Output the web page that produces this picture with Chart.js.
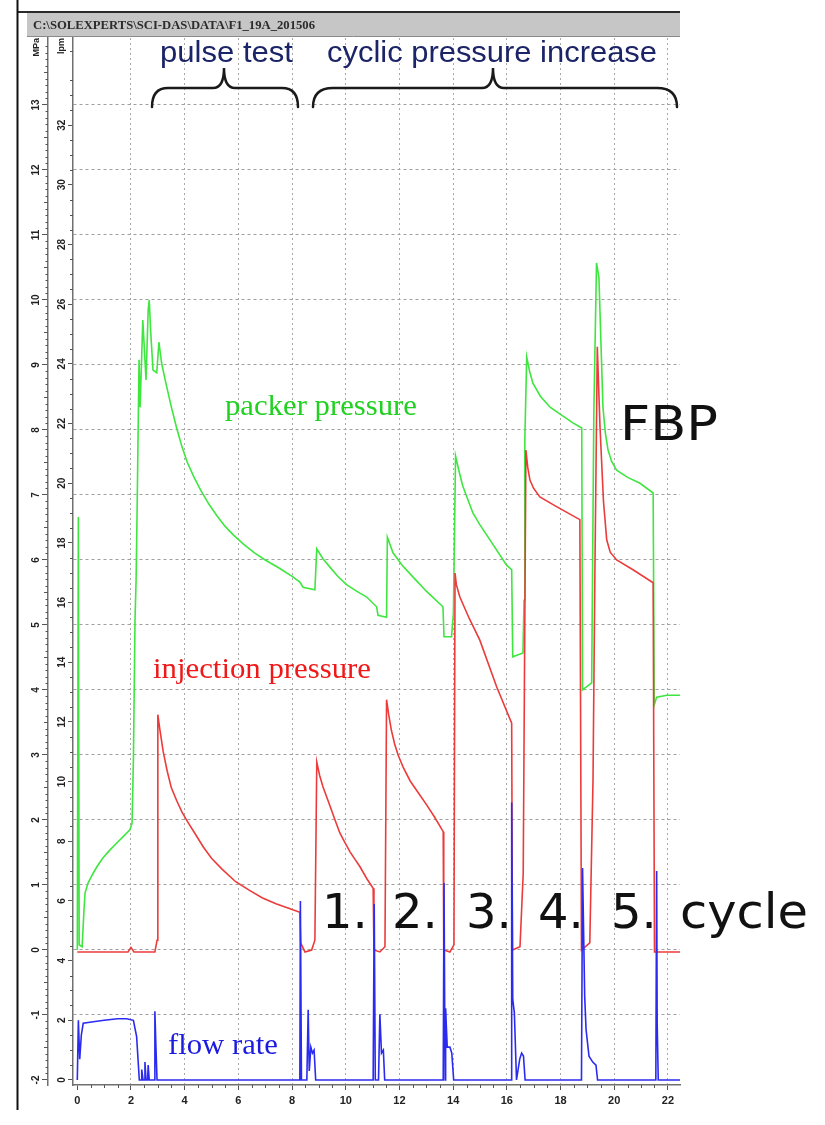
<!DOCTYPE html>
<html>
<head>
<meta charset="utf-8">
<title>F1_19A - pulse test / cyclic pressure increase</title>
<script src="https://cdn.jsdelivr.net/npm/chart.js@4.4.1/dist/chart.umd.min.js"></script>
<style>
  html, body { margin: 0; padding: 0; background: #fff; }
  canvas { display: block; }
</style>
</head>
<body>
<canvas id="grafica" width="825" height="1125"></canvas>
<script>
// --- DATA ---
const timeTicks = [0, 2, 4, 6, 8, 10, 12, 14, 16, 18, 20, 22];
const pressureTicks = [-2, -1, 0, 1, 2, 3, 4, 5, 6, 7, 8, 9, 10, 11, 12, 13];
const flowTicks = [0, 2, 4, 6, 8, 10, 12, 14, 16, 18, 20, 22, 24, 26, 28, 30, 32];

// [time, MPa]
const packerPressure = [
  [0.00, 0.00], [0.04, 6.66], [0.07, 0.08], [0.18, 0.05], [0.25, 0.62], [0.29, 0.88], [0.40, 1.03],
  [0.55, 1.15], [0.73, 1.28], [0.96, 1.42], [1.22, 1.54], [1.48, 1.65], [1.70, 1.74], [1.96, 1.85],
  [2.04, 1.95], [2.09, 2.92], [2.15, 5.08], [2.19, 5.69], [2.23, 6.82], [2.27, 8.11], [2.30, 9.08],
  [2.34, 8.35], [2.44, 9.69], [2.56, 8.77], [2.64, 9.85], [2.68, 10.00], [2.73, 9.54], [2.82, 8.92],
  [2.96, 8.88], [3.04, 9.35], [3.14, 9.03], [3.30, 8.72], [3.50, 8.36], [3.70, 8.03], [3.90, 7.74],
  [4.10, 7.50], [4.35, 7.27], [4.60, 7.07], [4.90, 6.86], [5.20, 6.68], [5.50, 6.52], [5.80, 6.39],
  [6.20, 6.24], [6.60, 6.11], [7.00, 6.00], [7.50, 5.88], [8.03, 5.74], [8.29, 5.66],
  [8.41, 5.58], [8.85, 5.54], [8.92, 6.17], [9.15, 6.02], [9.41, 5.89], [9.70, 5.75], [10.03, 5.62],
  [10.40, 5.52], [10.78, 5.43], [11.15, 5.28], [11.20, 5.15], [11.52, 5.12], [11.55, 6.35], [11.76, 6.11],
  [12.10, 5.92], [12.50, 5.74], [13.00, 5.52], [13.62, 5.28], [13.66, 4.82],
  [13.94, 4.82], [14.01, 5.18], [14.09, 7.60], [14.20, 7.40], [14.35, 7.15], [14.50, 6.98], [14.74, 6.72],
  [15.00, 6.54], [15.37, 6.31], [15.99, 5.92], [16.18, 5.85],
  [16.22, 4.51], [16.60, 4.57], [16.64, 5.38], [16.67, 7.85], [16.74, 9.12], [16.85, 8.90], [16.97, 8.72],
  [17.25, 8.52], [17.61, 8.35], [18.00, 8.24], [18.46, 8.11], [18.79, 8.03], [18.82, 4.00], [19.16, 4.11],
  [19.24, 8.26], [19.34, 10.57], [19.43, 10.35], [19.58, 8.35], [19.67, 7.95], [19.77, 7.69], [19.90, 7.52],
  [20.09, 7.38], [20.50, 7.27], [20.96, 7.18], [21.45, 7.03], [21.49, 3.77], [21.58, 3.89],
  [21.96, 3.92], [22.45, 3.92]
];

// [time, MPa]
const injectionPressure = [
  [0.00, -0.03], [1.89, -0.03], [2.00, 0.04], [2.11, -0.03], [2.89, -0.03], [2.97, 0.15], [3.00, 3.62],
  [3.08, 3.38], [3.20, 3.05], [3.35, 2.75], [3.50, 2.50], [3.70, 2.30], [3.90, 2.12], [4.10, 1.98],
  [4.40, 1.78], [4.70, 1.58], [5.00, 1.41], [5.40, 1.24], [5.90, 1.05], [6.40, 0.92], [6.90, 0.80],
  [7.40, 0.71], [7.90, 0.64], [8.29, 0.58], [8.32, 0.11], [8.48, -0.03],
  [8.73, 0.00], [8.85, 0.15], [8.92, 2.89], [9.03, 2.68], [9.15, 2.51], [9.41, 2.22], [9.60, 2.00],
  [9.78, 1.80], [9.97, 1.65], [10.16, 1.51], [10.35, 1.39], [10.53, 1.28], [10.78, 1.10], [11.02, 0.95],
  [11.05, 0.00], [11.27, -0.03], [11.46, 0.05], [11.52, 3.85], [11.60, 3.62], [11.70, 3.38],
  [11.82, 3.17], [11.95, 3.00], [12.15, 2.80], [12.40, 2.60], [12.70, 2.42], [13.00, 2.24], [13.30, 2.05],
  [13.63, 1.82], [13.65, 0.00], [13.88, -0.03],
  [14.03, 0.08], [14.07, 5.80], [14.12, 5.62], [14.25, 5.43], [14.60, 5.10], [14.99, 4.77], [15.62, 4.05],
  [16.18, 3.49], [16.21, 0.00], [16.49, 0.05], [16.61, 1.18], [16.71, 7.69], [16.78, 7.42], [16.86, 7.23],
  [17.00, 7.10], [17.23, 6.97], [17.85, 6.82], [18.72, 6.62], [18.78, 0.00], [19.09, 0.11], [19.21, 2.62],
  [19.28, 5.80], [19.37, 9.28], [19.47, 8.05], [19.60, 6.90], [19.72, 6.31], [19.85, 6.12], [20.09, 6.00],
  [20.70, 5.85], [21.45, 5.65], [21.50, -0.03], [22.45, -0.03]
];

// [time, lpm]
const flowRate = [
  [0.00, 0], [0.04, 2.0], [0.09, 0.7], [0.15, 1.5], [0.22, 1.9], [0.60, 1.95], [1.00, 2.0], [1.50, 2.05],
  [1.84, 2.05], [2.09, 2.0], [2.21, 1.45], [2.31, 0], [2.38, 0], [2.40, 0.35], [2.45, 0], [2.50, 0],
  [2.52, 0.6], [2.56, 0], [2.62, 0], [2.64, 0.5], [2.68, 0], [2.86, 0], [2.89, 2.3], [2.93, 1.1], [2.97, 0],
  [8.29, 0], [8.31, 6.0], [8.35, 0], [8.55, 0], [8.60, 2.35], [8.64, 0.3], [8.70, 1.1], [8.76, 0.9],
  [8.82, 1.0], [8.88, 0], [11.02, 0], [11.06, 5.9], [11.10, 0], [11.22, 0], [11.27, 2.2], [11.33, 0.9],
  [11.40, 1.0], [11.45, 0], [13.63, 0], [13.66, 6.6], [13.70, 0], [13.72, 2.4], [13.78, 1.1], [13.88, 1.1],
  [13.95, 0.9], [14.02, 0], [16.17, 0], [16.18, 9.3], [16.22, 2.7], [16.28, 2.25], [16.36, 0], [16.48, 0.7],
  [16.55, 0.9], [16.62, 0.8], [16.68, 0], [18.78, 0], [18.82, 7.1], [18.90, 2.8], [18.95, 1.7], [19.06, 0.8],
  [19.20, 0.6], [19.32, 0.5], [19.38, 0], [21.55, 0], [21.58, 7.0], [21.60, 1.9], [21.64, 0], [22.45, 0]
];

// --- HELPERS ---
const toPoints = arr => arr.map(([x, y]) => ({ x, y }));
const hidden = 'rgba(0,0,0,0)';
const tickFont = { family: 'Liberation Sans', weight: 'bold', size: 10 };

function fitText(ctx, txt, x, y, font, color, w) {
  ctx.save();
  ctx.font = font; ctx.fillStyle = color; ctx.textAlign = 'left'; ctx.textBaseline = 'alphabetic';
  const m = ctx.measureText(txt).width;
  ctx.translate(x, y);
  if (w) ctx.scale(w / m, 1);
  ctx.fillText(txt, 0, 0);
  ctx.restore();
}

function brace(ctx, left, tip, right, r) {
  const yEnd = 107, yBar = 88, yTip = 68;
  ctx.beginPath();
  ctx.moveTo(left, yEnd);
  ctx.quadraticCurveTo(left, yBar, left + r, yBar);
  ctx.lineTo(tip - 11, yBar);
  ctx.quadraticCurveTo(tip, yBar, tip, yTip);
  ctx.quadraticCurveTo(tip, yBar, tip + 11, yBar);
  ctx.lineTo(right - r, yBar);
  ctx.quadraticCurveTo(right, yBar, right, yEnd);
  ctx.stroke();
}

// --- DECOR (minor ticks, header, notes) ---
const decor = {
  id: 'decor',
  afterDraw(chart) {
    const ctx = chart.ctx;
    const { x, mpa, lpm } = chart.scales;

    ctx.save();
    ctx.strokeStyle = '#555'; ctx.lineWidth = 1;
    ctx.beginPath();
    for (let v = -20; v <= 140; v++) {
      if (v % 10 === 0) continue;
      const py = Math.round(mpa.getPixelForValue(v / 10)) + 0.5;
      const len = v % 5 === 0 ? 4 : 2.5;
      ctx.moveTo(mpa.right - len, py); ctx.lineTo(mpa.right, py);
    }
    for (let v = 0; v <= 69; v++) {
      if (v % 4 === 0) continue;
      const py = Math.round(lpm.getPixelForValue(v / 2)) + 0.5;
      ctx.moveTo(lpm.right - 3, py); ctx.lineTo(lpm.right, py);
    }
    for (let v = 0; v <= 44; v++) {
      if (v % 4 === 0) continue;
      const px = Math.round(x.getPixelForValue(v / 2)) + 0.5;
      ctx.moveTo(px, x.top); ctx.lineTo(px, x.top + 3);
    }
    ctx.stroke();

    // window frame + file header
    ctx.fillStyle = '#c6c6c6'; ctx.fillRect(27, 12, 653, 24);
    ctx.strokeStyle = '#2a2a2a'; ctx.lineWidth = 2;
    ctx.beginPath(); ctx.moveTo(17, 12); ctx.lineTo(680, 12); ctx.stroke();
    ctx.strokeStyle = '#8a8a8a'; ctx.lineWidth = 1;
    ctx.beginPath(); ctx.moveTo(27, 36.5); ctx.lineTo(680, 36.5); ctx.stroke();
    ctx.strokeStyle = '#111'; ctx.lineWidth = 2;
    ctx.beginPath(); ctx.moveTo(17.5, 0); ctx.lineTo(17.5, 1110); ctx.stroke();
    fitText(ctx, 'C:\\SOLEXPERTS\\SCI-DAS\\DATA\\F1_19A_201506', 33, 29, 'bold 12px "Liberation Sans Narrow"', '#2b2b2b', 282);

    // phase labels
    fitText(ctx, 'pulse test', 160, 62, '30px "Liberation Sans"', '#1b2466', 133);
    fitText(ctx, 'cyclic pressure increase', 327, 62, '30px "Liberation Sans"', '#1b2466', 330);
    ctx.strokeStyle = '#1a1a1a'; ctx.lineWidth = 2.5; ctx.lineCap = 'round';
    brace(ctx, 152, 224, 298, 16);
    brace(ctx, 313, 493, 677, 20);

    // series labels
    fitText(ctx, 'packer pressure', 225, 415, '30px "Liberation Serif"', '#22d022', 192);
    fitText(ctx, 'injection pressure', 153, 678, '30px "Liberation Serif"', '#f01818', 218);
    fitText(ctx, 'flow rate', 168, 1054, '30px "Liberation Serif"', '#1a1ae0', 110);

    // FBP + cycle numbers
    const big = '48px "DejaVu Sans"';
    fitText(ctx, 'FBP', 620, 440, big, '#111', 98);
    [['1.', 322], ['2.', 392], ['3.', 466], ['4.', 538], ['5.', 611]].forEach(([t, px]) => fitText(ctx, t, px, 928, big, '#111'));
    fitText(ctx, 'cycle', 680, 928, big, '#111', 128);
    ctx.restore();
  }
};

// --- CHART ---
const line = (label, data, axis, color, order) => ({
  label, data: toPoints(data), yAxisID: axis, borderColor: color, backgroundColor: color,
  borderWidth: 1.6, pointRadius: 0, tension: 0, fill: false, order
});

new Chart(document.getElementById('grafica'), {
  type: 'line',
  data: {
    datasets: [
      line('flow rate', flowRate, 'lpm', '#2b2bf0', 0),
      line('injection pressure', injectionPressure, 'mpa', '#ec3b3b', 1),
      line('packer pressure', packerPressure, 'mpa', '#3fe63f', 2)
    ]
  },
  options: {
    responsive: false, animation: false, devicePixelRatio: 1,
    layout: { padding: { left: 27, top: 38, right: 145, bottom: 12 } },
    plugins: { legend: { display: false }, tooltip: { enabled: false }, title: { display: false } },
    scales: {
      x: {
        type: 'linear', position: 'bottom', min: -0.16, max: 22.45,
        afterBuildTicks: s => { s.ticks = timeTicks.map(v => ({ value: v })); },
        afterFit: s => { s.height = 28; },
        ticks: { autoSkip: false, maxRotation: 0, padding: 4, color: '#222', font: { ...tickFont, size: 11 } },
        grid: { color: c => (c.tick && c.tick.value > 0 ? '#a8a8a8' : hidden), lineWidth: 1, tickColor: '#555', tickLength: 5 },
        border: { display: true, color: '#707070', width: 1.5, dash: [2, 3] }
      },
      mpa: {
        type: 'linear', position: 'left', weight: 2, min: -2.077, max: 14.03,
        afterBuildTicks: s => { s.ticks = pressureTicks.map(v => ({ value: v })); },
        afterFit: s => { s.width = 21; },
        ticks: { autoSkip: false, minRotation: 90, maxRotation: 90, crossAlign: 'center', padding: 0, color: '#222', font: tickFont },
        grid: { color: c => (c.tick && c.tick.value > -2 ? '#a0a0a0' : hidden), lineWidth: 1, tickColor: '#555', tickLength: 6 },
        border: { display: true, color: '#707070', width: 1.5, dash: [3, 3] },
        title: { display: true, text: 'MPa', align: 'end', padding: { top: 4.6, bottom: 0 }, color: '#222', font: { ...tickFont, size: 9 } }
      },
      lpm: {
        type: 'linear', position: 'left', weight: 1, min: -0.168, max: 34.92,
        afterBuildTicks: s => { s.ticks = flowTicks.map(v => ({ value: v })); },
        afterFit: s => { s.width = 25; },
        ticks: { autoSkip: false, minRotation: 90, maxRotation: 90, crossAlign: 'center', padding: 0, color: '#222', font: tickFont },
        grid: { drawOnChartArea: false, tickColor: '#555', tickLength: 5 },
        border: { display: true, color: '#707070', width: 1.5 },
        title: { display: true, text: 'lpm', align: 'end', padding: { top: 8.6, bottom: 0 }, color: '#222', font: { ...tickFont, size: 9 } }
      }
    }
  },
  plugins: [decor]
});
</script>
</body>
</html>
